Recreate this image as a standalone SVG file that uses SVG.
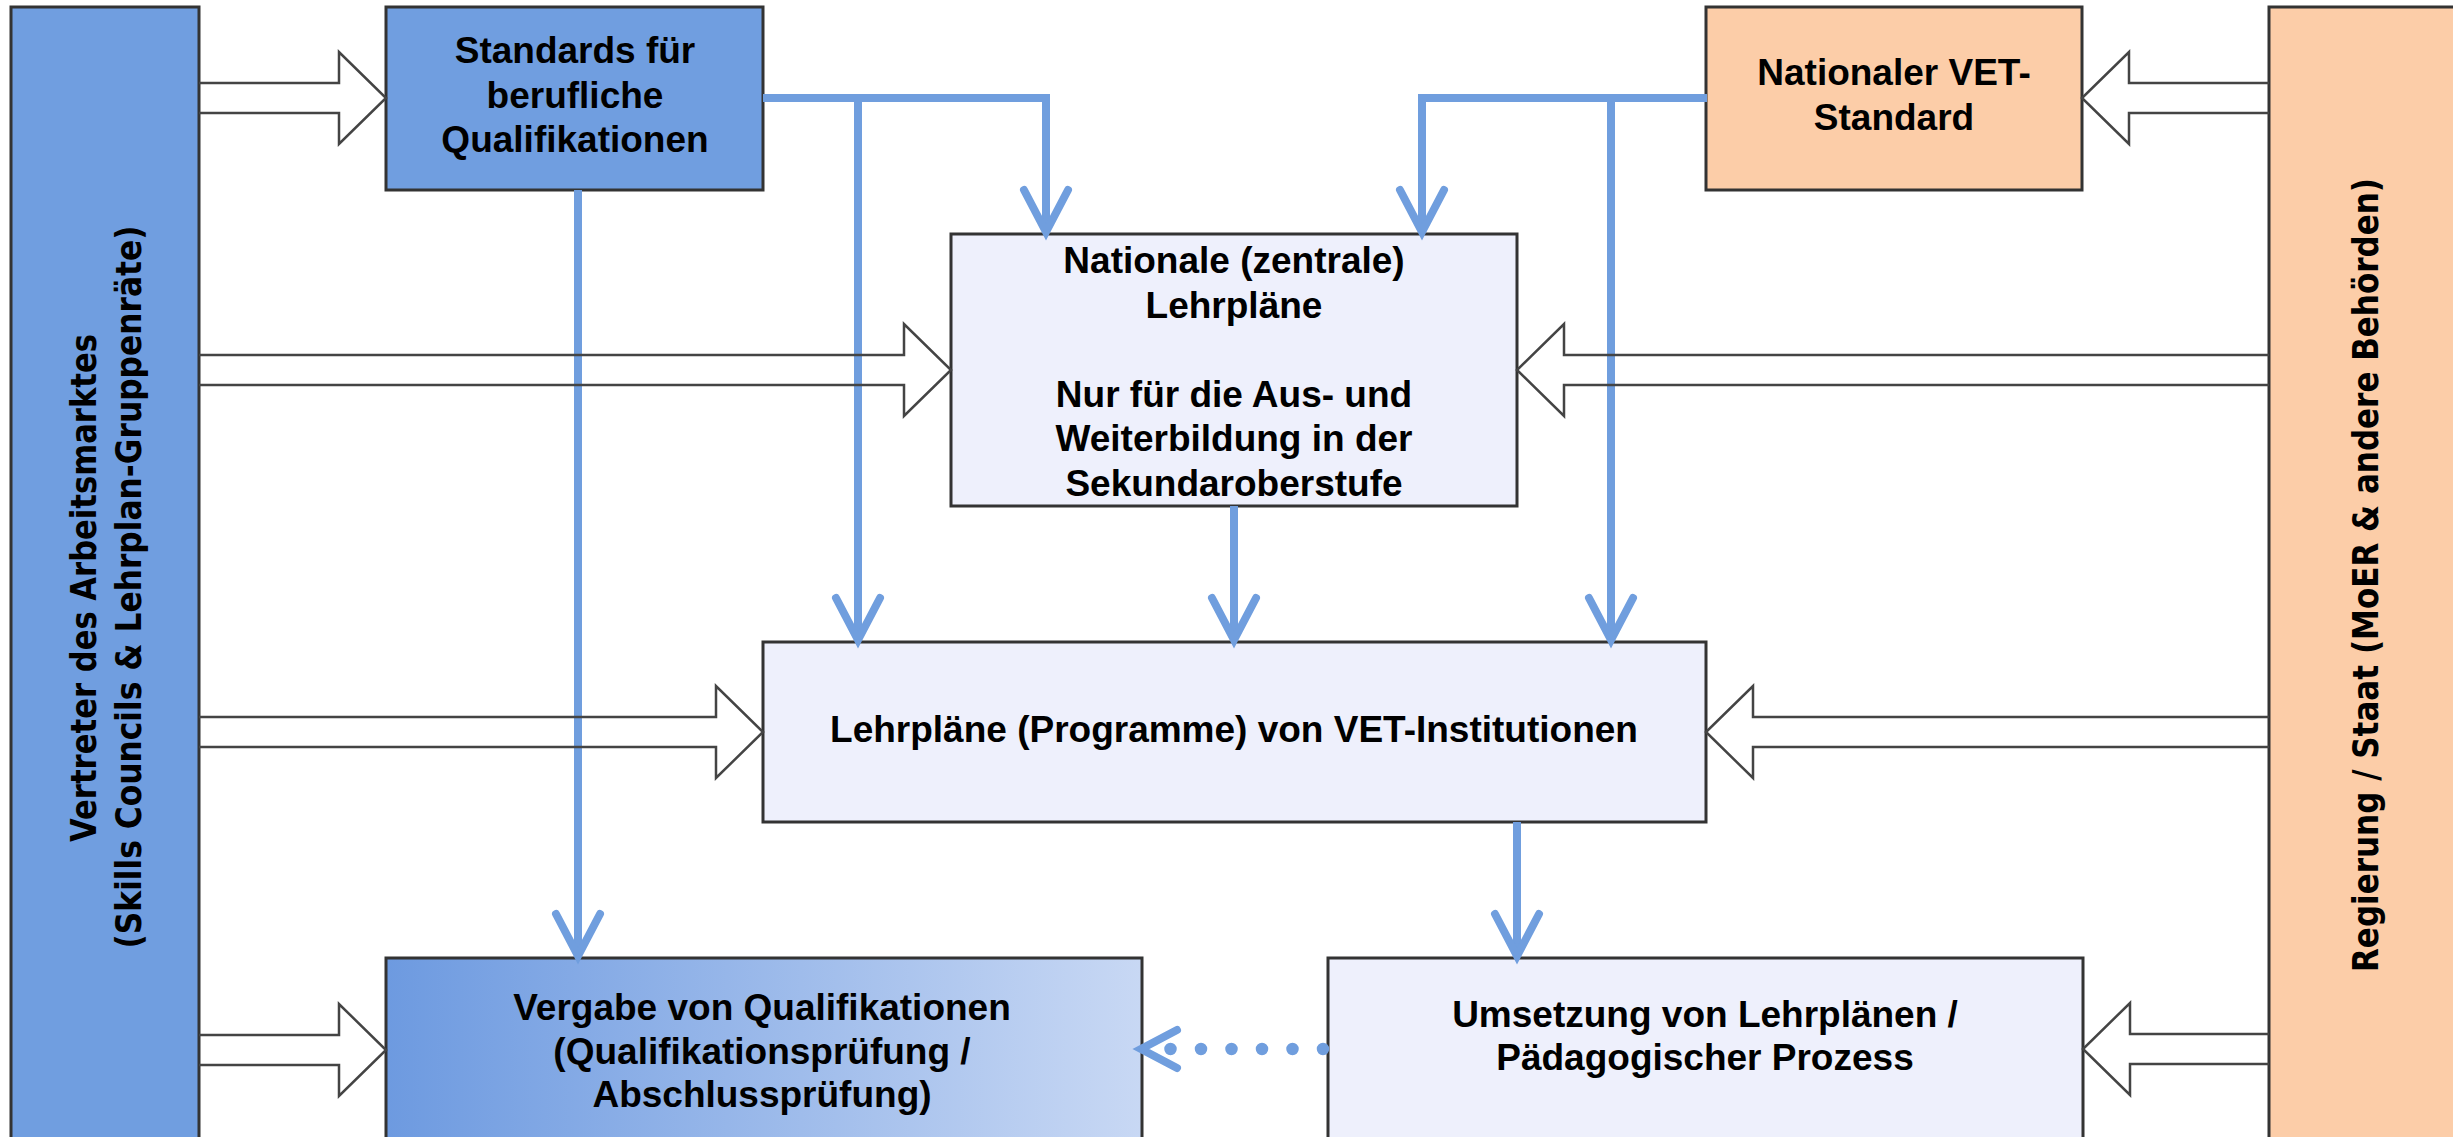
<svg xmlns="http://www.w3.org/2000/svg" width="2453" height="1137" viewBox="0 0 2453 1137">
<defs>
<style>
.box{stroke:#333;stroke-width:3}
.blue{fill:#709ee0}
.lav{fill:#eef0fc}
.peach{fill:#fccda8}
.t{font-family:"Liberation Sans",Arial,sans-serif;font-weight:bold;font-size:37px;fill:#000;text-anchor:middle}
.side{font-family:"DejaVu Sans",Verdana,sans-serif;font-weight:bold;font-size:35px;fill:#000;text-anchor:middle}
.conn{fill:none;stroke:#709ede;stroke-width:8}
.hollow{fill:none;stroke:#444;stroke-width:2.5;stroke-linejoin:miter}
</style>
<linearGradient id="gv" x1="0" y1="0" x2="1" y2="0">
<stop offset="0" stop-color="#6d9ae0"/>
<stop offset="1" stop-color="#c8d8f4"/>
</linearGradient>
<marker id="ah" markerUnits="userSpaceOnUse" viewBox="-50 -30 56 60" refX="0" refY="0" markerWidth="56" markerHeight="60" orient="auto" overflow="visible">
<path d="M-42,-22 L0,0 L-42,22" fill="none" stroke="#709ede" stroke-width="8" stroke-linecap="round" stroke-linejoin="miter"/>
</marker>
</defs>
<rect width="2453" height="1137" fill="#fff"/>

<g id="markt">
<rect class="box blue" x="11" y="7" width="188" height="1150"/>
<text class="side" transform="translate(96,588) rotate(-90)" textLength="508" lengthAdjust="spacingAndGlyphs">Vertreter des Arbeitsmarktes</text>
<text class="side" transform="translate(141,587) rotate(-90)" textLength="723" lengthAdjust="spacingAndGlyphs">(Skills Councils &amp; Lehrplan-Gruppenräte)</text>
</g>

<g id="staat">
<rect class="box peach" x="2269" y="7" width="200" height="1150"/>
<text class="side" transform="translate(2378,575) rotate(-90)" textLength="794" lengthAdjust="spacingAndGlyphs">Regierung / Staat (MoER &amp; andere Behörden)</text>
</g>

<g id="standards">
<rect class="box blue" x="386" y="7" width="377" height="183"/>
<text class="t" x="575" y="63">Standards für</text>
<text class="t" x="575" y="107.5">berufliche</text>
<text class="t" x="575" y="152">Qualifikationen</text>
</g>

<g id="vetstandard">
<rect class="box peach" x="1706" y="7" width="376" height="183"/>
<text class="t" x="1894" y="85">Nationaler VET-</text>
<text class="t" x="1894" y="130">Standard</text>
</g>

<g id="nationale">
<rect class="box lav" x="951" y="234" width="566" height="272"/>
<text class="t" x="1234" y="273">Nationale (zentrale)</text>
<text class="t" x="1234" y="317.6">Lehrpläne</text>
<text class="t" x="1234" y="407">Nur für die Aus- und</text>
<text class="t" x="1234" y="451.4">Weiterbildung in der</text>
<text class="t" x="1234" y="496">Sekundaroberstufe</text>
</g>

<g id="institutionen">
<rect class="box lav" x="763" y="642" width="943" height="180"/>
<text class="t" x="1234" y="742">Lehrpläne (Programme) von VET-Institutionen</text>
</g>

<g id="vergabe">
<rect class="box" fill="url(#gv)" x="386" y="958" width="756" height="200"/>
<text class="t" x="762" y="1020">Vergabe von Qualifikationen</text>
<text class="t" x="762" y="1063.5">(Qualifikationsprüfung /</text>
<text class="t" x="762" y="1107">Abschlussprüfung)</text>
</g>

<g id="umsetzung">
<rect class="box lav" x="1328" y="958" width="755" height="200"/>
<text class="t" x="1705" y="1027">Umsetzung von Lehrplänen /</text>
<text class="t" x="1705" y="1070">Pädagogischer Prozess</text>
</g>

<g id="connectors">
<path class="conn" d="M763,98 L1046,98 L1046,232" marker-end="url(#ah)"/>
<path class="conn" d="M858,98 L858,640" marker-end="url(#ah)"/>
<path class="conn" d="M1707,98 L1422,98 L1422,232" marker-end="url(#ah)"/>
<path class="conn" d="M1611,98 L1611,640" marker-end="url(#ah)"/>
<path class="conn" d="M1234,506 L1234,640" marker-end="url(#ah)"/>
<path class="conn" d="M578,190 L578,956" marker-end="url(#ah)"/>
<path class="conn" d="M1517,822 L1517,956" marker-end="url(#ah)"/>
<path d="M1323,1049 L1160,1049" fill="none" stroke="#709ede" stroke-width="12.5" stroke-linecap="round" stroke-dasharray="0 30.5"/>
<path d="M1177,1030 L1141,1049 L1177,1068" fill="none" stroke="#709ede" stroke-width="8" stroke-linecap="round"/>

<path class="hollow" d="M199,83 L339,83 L339,52 L386,98 L339,144 L339,113 L199,113"/>
<path class="hollow" d="M199,355 L904,355 L904,324 L951,370 L904,416 L904,385 L199,385"/>
<path class="hollow" d="M199,717 L716,717 L716,686 L763,732 L716,778 L716,747 L199,747"/>
<path class="hollow" d="M199,1035 L339,1035 L339,1004 L386,1050 L339,1096 L339,1065 L199,1065"/>

<path class="hollow" d="M2269,83 L2129,83 L2129,52 L2082,98 L2129,144 L2129,113 L2269,113"/>
<path class="hollow" d="M2269,355 L1564,355 L1564,324 L1517,370 L1564,416 L1564,385 L2269,385"/>
<path class="hollow" d="M2269,717 L1753,717 L1753,686 L1706,732 L1753,778 L1753,747 L2269,747"/>
<path class="hollow" d="M2269,1034 L2130,1034 L2130,1003 L2083,1049 L2130,1095 L2130,1064 L2269,1064"/>
</g>
</svg>
